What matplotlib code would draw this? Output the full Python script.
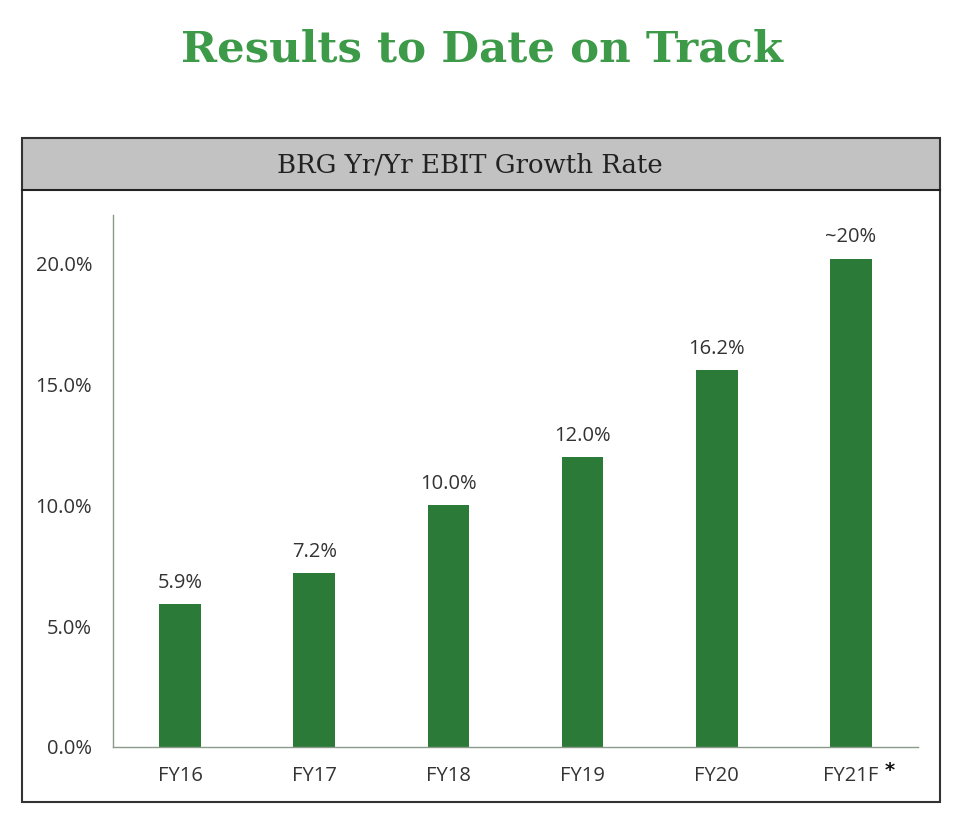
import matplotlib.pyplot as plt
from matplotlib.patches import Rectangle

categories = ["FY16", "FY17", "FY18", "FY19", "FY20", "FY21F"]
bar_values = [5.9, 7.2, 10.0, 12.0, 15.6, 20.2]
bar_labels = ["5.9%", "7.2%", "10.0%", "12.0%", "16.2%", "~20%"]
y_ticks = [0, 5, 10, 15, 20]
y_tick_labels = ["0.0%", "5.0%", "10.0%", "15.0%", "20.0%"]

BAR_GREEN = "#2c7a37"
TITLE_GREEN = "#3c9a48"
TEXT = "#333333"


def main() -> None:
    fig = plt.figure(figsize=(9.71, 8.31), dpi=100)
    W, H = 971, 831

    # page title
    fig.text(0.496, 1 - 50 / H, "Results to Date on Track", ha="center", va="center",
             fontsize=31.3, color=TITLE_GREEN, family="DejaVu Serif", fontweight="bold")

    # panel frame and grey header band
    left, right, top, bottom, band = 22 / W, 940 / W, 1 - 138 / H, 1 - 802 / H, 1 - 190 / H
    fig.patches.append(Rectangle((left, band), right - left, top - band, transform=fig.transFigure,
                                 facecolor="#c2c2c2", edgecolor="none", zorder=0))
    fig.patches.append(Rectangle((left, bottom), right - left, top - bottom, transform=fig.transFigure,
                                 facecolor="none", edgecolor="#333333", linewidth=1.5, zorder=1))
    fig.lines.append(plt.Line2D([left, right], [band, band], transform=fig.transFigure,
                                color="#222222", linewidth=1.5))
    fig.text(0.484, 1 - 165 / H, "BRG Yr/Yr EBIT Growth Rate", ha="center", va="center",
             fontsize=18.7, color="#222222", family="DejaVu Serif")

    ax = fig.add_axes([113 / W, 1 - 747 / H, (918 - 113) / W, (747 - 215) / H])
    x = list(range(len(categories)))
    bars = ax.bar(x, bar_values, width=0.31, color=BAR_GREEN, zorder=2)
    for rect, label in zip(bars, bar_labels):
        ax.annotate(label, (rect.get_x() + rect.get_width() / 2, rect.get_height()),
                    xytext=(0, 8), textcoords="offset points", ha="center", va="bottom",
                    fontsize=14.5, color=TEXT, family="Open Sans")

    ax.set_xlim(-0.5, len(categories) - 0.5)
    ax.set_ylim(0, 22)
    ax.set_xticks(x)
    ax.set_xticklabels(categories, fontsize=14.5, color=TEXT, family="Open Sans")
    ax.set_yticks(y_ticks)
    ax.set_yticklabels(y_tick_labels, fontsize=14.5, color=TEXT, family="Open Sans")
    ax.tick_params(length=0, pad=15, axis="y")
    ax.tick_params(length=0, pad=14, axis="x")
    ax.annotate("*", (x[-1], 0), xytext=(24, -17), textcoords="offset points",
                ha="left", va="center", fontsize=14, color="#111111", fontweight="bold")

    for side in ("top", "right"):
        ax.spines[side].set_visible(False)
    ax.spines["left"].set_color("#8a9a8a")
    ax.spines["bottom"].set_color("#8a9a8a")
    ax.spines["left"].set_linewidth(1.0)
    ax.spines["bottom"].set_linewidth(1.0)

    fig.savefig("out.png", dpi=100)


if __name__ == "__main__":
    main()
